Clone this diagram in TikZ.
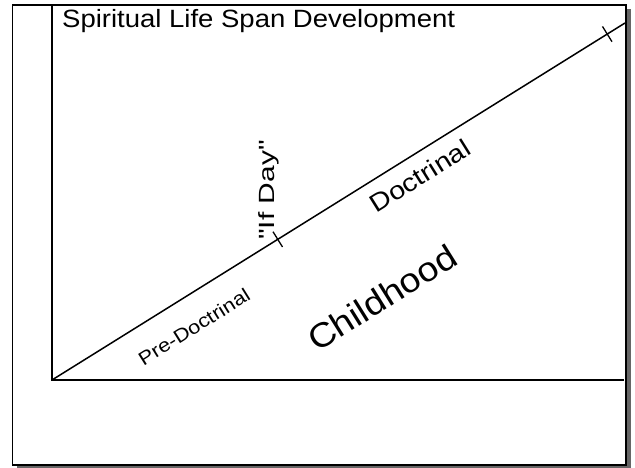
\documentclass[tikz,border=0pt]{standalone}
\usepackage{fontspec}
\setmainfont{Liberation Sans}[Ligatures=TeXOff]
\usetikzlibrary{calc}
\begin{document}
\begin{tikzpicture}[x=1pt,y=-1pt,
  frame/.style={line width=1.8pt, draw=black, fill=white},
  axisline/.style={line width=1.8pt, line cap=rect},
  tickmark/.style={line width=1.3pt},
  lbl/.style={inner sep=0pt, rotate=32}]
\useasboundingbox (0,0) rectangle (635,468);
\fill[gray!80!black] (16.5,9) rectangle (630.5,469);
\draw[frame] (12.5,5) rectangle (626,465);
\coordinate (top) at (52,5);
\coordinate (O) at (52,380);
\coordinate (xend) at (623,380);
\coordinate (B) at (625,23);
\draw[axisline] (top) -- (O) -- (xend);
\draw[line width=1.5pt] (O) -- (B);
\coordinate (P1) at ($(O)!0.394!(B)$);
\coordinate (P2) at ($(O)!0.969!(B)$);
\coordinate (t1a) at ($(P1)!9pt!90:(B)$);
\coordinate (t1b) at ($(P1)!9pt!-90:(B)$);
\coordinate (t2a) at ($(P2)!9pt!90:(B)$);
\coordinate (t2b) at ($(P2)!9pt!-90:(B)$);
\draw[tickmark] (t1a) -- (t1b);
\draw[tickmark] (t2a) -- (t2b);
\node[inner sep=0pt, anchor=base west, font=\fontsize{25}{25}\selectfont] (title) at (62,28) {\scalebox{1.1}[1]{Spiritual Life Span Development}};
\node[inner sep=0pt, rotate=90, font=\fontsize{22}{22}\selectfont] (ifday) at (269,190) {\scalebox{1.36}[1]{"If Day"}};
\node[lbl, font=\fontsize{25}{25}\selectfont] (doctrinal) at (420,176) {\scalebox{1.15}[1]{Doctrinal}};
\node[lbl, font=\fontsize{19}{19}\selectfont] (predoc) at (194,327) {\scalebox{1.15}[1]{Pre-Doctrinal}};
\node[lbl, font=\fontsize{34}{34}\selectfont] (child) at (382,298) {\scalebox{1.1}[1]{Childhood}};
\end{tikzpicture}
\end{document}
